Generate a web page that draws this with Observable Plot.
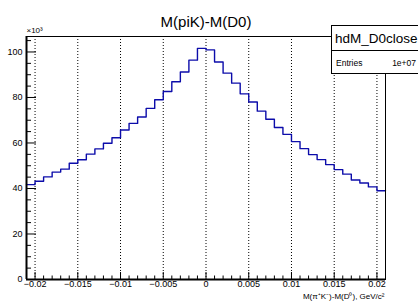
<!DOCTYPE html>
<html><head><meta charset="utf-8">
<script src="https://cdn.jsdelivr.net/npm/d3@7"></script>
<script src="https://cdn.jsdelivr.net/npm/@observablehq/plot@0.6"></script>
<style>
html,body{margin:0;padding:0;background:#fff;overflow:hidden;}
#wrap{position:relative;width:418px;height:303px;font-family:"Liberation Sans",Arial,Helvetica,sans-serif;}
#wrap svg{display:block;}
#stats{position:absolute;left:331px;top:25px;width:92px;height:49px;border:1px solid #000;background:#fff;box-sizing:border-box;color:#000;}
#stats .name{position:absolute;left:3px;top:6px;font-size:13.5px;line-height:1;white-space:nowrap;}
#stats .div{position:absolute;left:0;right:0;top:24px;border-top:1px solid #000;}
#stats .ent{position:absolute;left:4px;top:32.5px;font-size:8.5px;line-height:1;}
#stats .val{position:absolute;left:0;width:84px;text-align:right;top:32.5px;font-size:8.5px;line-height:1;}
</style></head>
<body><div id="wrap"></div>
<script>
// ---- data ----
const title = "M(piK)-M(D0)";
const histName = "hdM_D0close";
const entriesLabel = "Entries";
const entriesValue = "1e+07";
const xTitle = "M(\u03C0\u207AK\u207B)-M(D\u2070), GeV/c\u00B2";
const yExponent = "\u00D710\u00B3";
const binLow = -0.021;
const binWidth = 0.001;
// bin contents (x10^3), 42 bins from -0.021 to 0.021
const counts = [41.7, 43.2, 45.1, 47.2, 48.5, 51.1, 52.6, 55.1, 57.4, 59.9,
  62.3, 65.7, 68.6, 71.4, 75.2, 79.0, 82.6, 86.9, 91.2, 96.4, 101.6,
  100.9, 95.6, 90.7, 86.3, 81.6, 78.0, 74.0, 70.4, 66.8, 63.8,
  60.6, 57.5, 54.9, 52.7, 50.5, 48.3, 46.3, 43.7, 42.4, 40.7, 39.0];
const xMajorTicks = [-0.02, -0.015, -0.01, -0.005, 0, 0.005, 0.01, 0.015, 0.02];
const xTickLabels = ["\u22120.02", "\u22120.015", "\u22120.01", "\u22120.005", "0", "0.005", "0.01", "0.015", "0.02"];
const xMinorTicks = [-0.021,-0.019,-0.018,-0.017,-0.016,-0.014,-0.013,-0.012,-0.011,-0.009,-0.008,-0.007,-0.006,-0.004,-0.003,-0.002,-0.001,0.001,0.002,0.003,0.004,0.006,0.007,0.008,0.009,0.011,0.012,0.013,0.014,0.016,0.017,0.018,0.019,0.021];
const yMajorTicks = [0, 20, 40, 60, 80, 100];
const yTickLabels = ["0", "20", "40", "60", "80", "100"];
const yMinorTicks = [5, 10, 15, 25, 30, 35, 45, 50, 55, 65, 70, 75, 85, 90, 95, 105];
const xDomain = [-0.021, 0.021];
const yDomain = [0, 106.8];

// ---- build ----
const W = 418, H = 303;
const mL = 26, mR = 33, mT = 36, mB = 24;
const innerW = W - mL - mR, innerH = H - mT - mB;

const steps = counts.map((c, i) => ({x: binLow + i * binWidth, y: c}));
steps.push({x: binLow + counts.length * binWidth, y: counts[counts.length - 1]});

const font = '"Liberation Sans", Arial, Helvetica, sans-serif';

const chart = Plot.plot({
  width: W, height: H,
  marginLeft: mL, marginRight: mR, marginTop: mT, marginBottom: mB,
  style: {fontFamily: font, background: "#fff", color: "#000", overflow: "visible"},
  x: {domain: xDomain},
  y: {domain: yDomain},
  marks: [
    Plot.ruleX(xMajorTicks, {stroke: "#000", strokeWidth: 1, strokeDasharray: "1,2"}),
    Plot.line(steps, {x: "x", y: "y", curve: "step-after", stroke: "#0c0caa", strokeWidth: 1.4}),
    Plot.frame({stroke: "#000", strokeWidth: 1}),
    Plot.ruleX([xDomain[0]], {stroke: "#000", strokeWidth: 2}),
    Plot.ruleY([yDomain[0]], {stroke: "#000", strokeWidth: 2}),
    Plot.ruleX(xMajorTicks, {stroke: "#000", insetTop: innerH - 7}),
    Plot.ruleX(xMinorTicks, {stroke: "#000", insetTop: innerH - 3.5}),
    Plot.ruleY(yMajorTicks, {stroke: "#000", insetRight: innerW - 10}),
    Plot.ruleY(yMinorTicks, {stroke: "#000", insetRight: innerW - 5}),
    Plot.axisX(xMajorTicks, {tickSize: 0, tickPadding: 1.5, fontSize: 9, label: null,
      tickFormat: d => xTickLabels[xMajorTicks.indexOf(d)]}),
    Plot.axisY(yMajorTicks, {tickSize: 0, tickPadding: 4, fontSize: 9, label: null,
      tickFormat: d => yTickLabels[yMajorTicks.indexOf(d)]}),
    Plot.text([title], {frameAnchor: "top", dy: -20, fontSize: 15, fill: "#000"}),
    Plot.text([yExponent], {frameAnchor: "top-left", dy: -9, dx: 0, textAnchor: "start", fontSize: 8, fill: "#000"}),
    Plot.text([xTitle], {frameAnchor: "bottom-right", dy: 19, dx: -1, textAnchor: "end", fontSize: 8, fill: "#000"})
  ]
});
const wrap = document.getElementById("wrap");
wrap.appendChild(chart);
const stats = document.createElement("div");
stats.id = "stats";
stats.innerHTML = `<div class="name"></div><div class="div"></div><div class="ent"></div><div class="val"></div>`;
stats.querySelector(".name").textContent = histName;
stats.querySelector(".ent").textContent = entriesLabel;
stats.querySelector(".val").textContent = entriesValue;
wrap.appendChild(stats);
</script>
</body></html>
